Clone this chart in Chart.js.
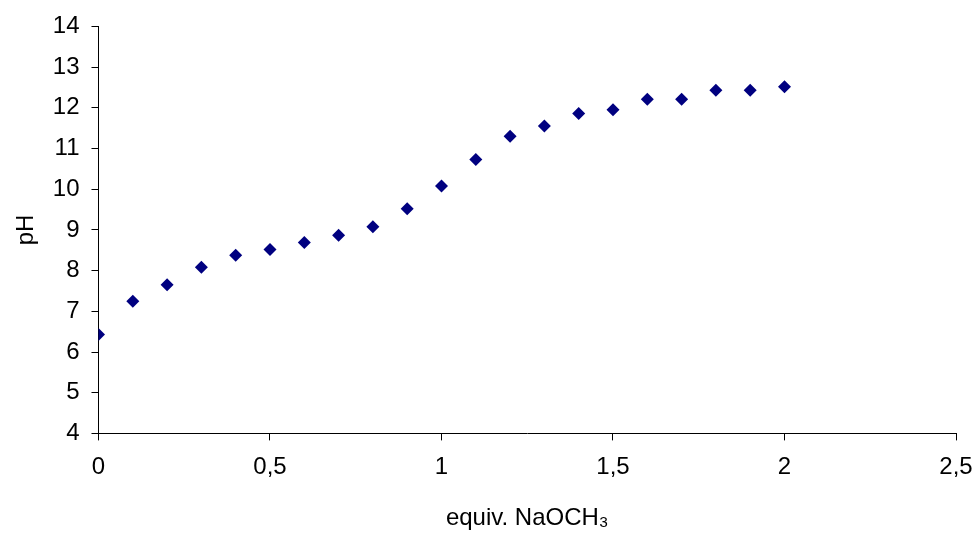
<!DOCTYPE html>
<html lang="en">
<head>
  <meta charset="UTF-8" />
  <title>pH titration</title>
  <style>
    body {
      margin: 0;
      background-color: #fff;
    }
    #wrap {
      width: 975px;
      height: 533px;
    }
  </style>
</head>
<body>
  <div id="wrap"><canvas id="phChart" width="975" height="533"></canvas></div>

  <script src="https://cdn.jsdelivr.net/npm/chart.js@4"></script>
  <script>
    // equivalents of NaOCH3 added
    const equiv = [0, 0.1, 0.2, 0.3, 0.4, 0.5, 0.6, 0.7, 0.8, 0.9, 1.0,
                   1.1, 1.2, 1.3, 1.4, 1.5, 1.6, 1.7, 1.8, 1.9, 2.0];
    // measured pH
    const pH = [6.43, 7.25, 7.65, 8.08, 8.38, 8.52, 8.69, 8.87, 9.08, 9.52, 10.08,
                10.73, 11.30, 11.55, 11.86, 11.95, 12.21, 12.21, 12.43, 12.43, 12.52];

    const points = equiv.map((x, i) => ({ x: x, y: pH[i] }));
    const comma = v => String(v).replace('.', ',');

    const font = { family: 'Liberation Sans, Arial, sans-serif', size: 24 };

    new Chart(document.getElementById('phChart'), {
      type: 'scatter',
      data: {
        datasets: [{
          label: 'pH',
          data: points,
          pointStyle: 'rectRot',
          pointRadius: 6.5,
          pointHoverRadius: 6.5,
          backgroundColor: '#000080',
          borderColor: '#000080',
          borderWidth: 0
        }]
      },
      options: {
        responsive: false,
        animation: false,
        layout: { padding: { top: 24, right: 19, left: 0, bottom: 0 } },
        plugins: {
          legend: { display: false },
          tooltip: { enabled: false }
        },
        scales: {
          x: {
            type: 'linear',
            min: 0,
            max: 2.5,
            // let the last label hang into the right margin like the original
            afterFit: s => { s.paddingRight = 0; s.paddingLeft = 0; },
            grid: { drawOnChartArea: false, color: '#000', tickLength: 7 },
            border: { color: '#000', width: 1 },
            ticks: {
              stepSize: 0.5,
              color: '#000',
              font: font,
              padding: 13,
              maxRotation: 0,
              callback: v => comma(v)
            },
            title: {
              display: true,
              text: 'equiv. NaOCH₃',
              color: '#000',
              font: font,
              padding: { top: 9, bottom: 0 }
            }
          },
          y: {
            min: 4,
            max: 14,
            grid: { drawOnChartArea: false, color: '#000', tickLength: 7 },
            border: { color: '#000', width: 1 },
            ticks: {
              stepSize: 1,
              color: '#000',
              font: font,
              padding: 12
            },
            title: {
              display: true,
              text: 'pH',
              color: '#000',
              font: font,
              padding: { top: 12, bottom: 0 }
            }
          }
        }
      }
    });
  </script>
</body>
</html>
